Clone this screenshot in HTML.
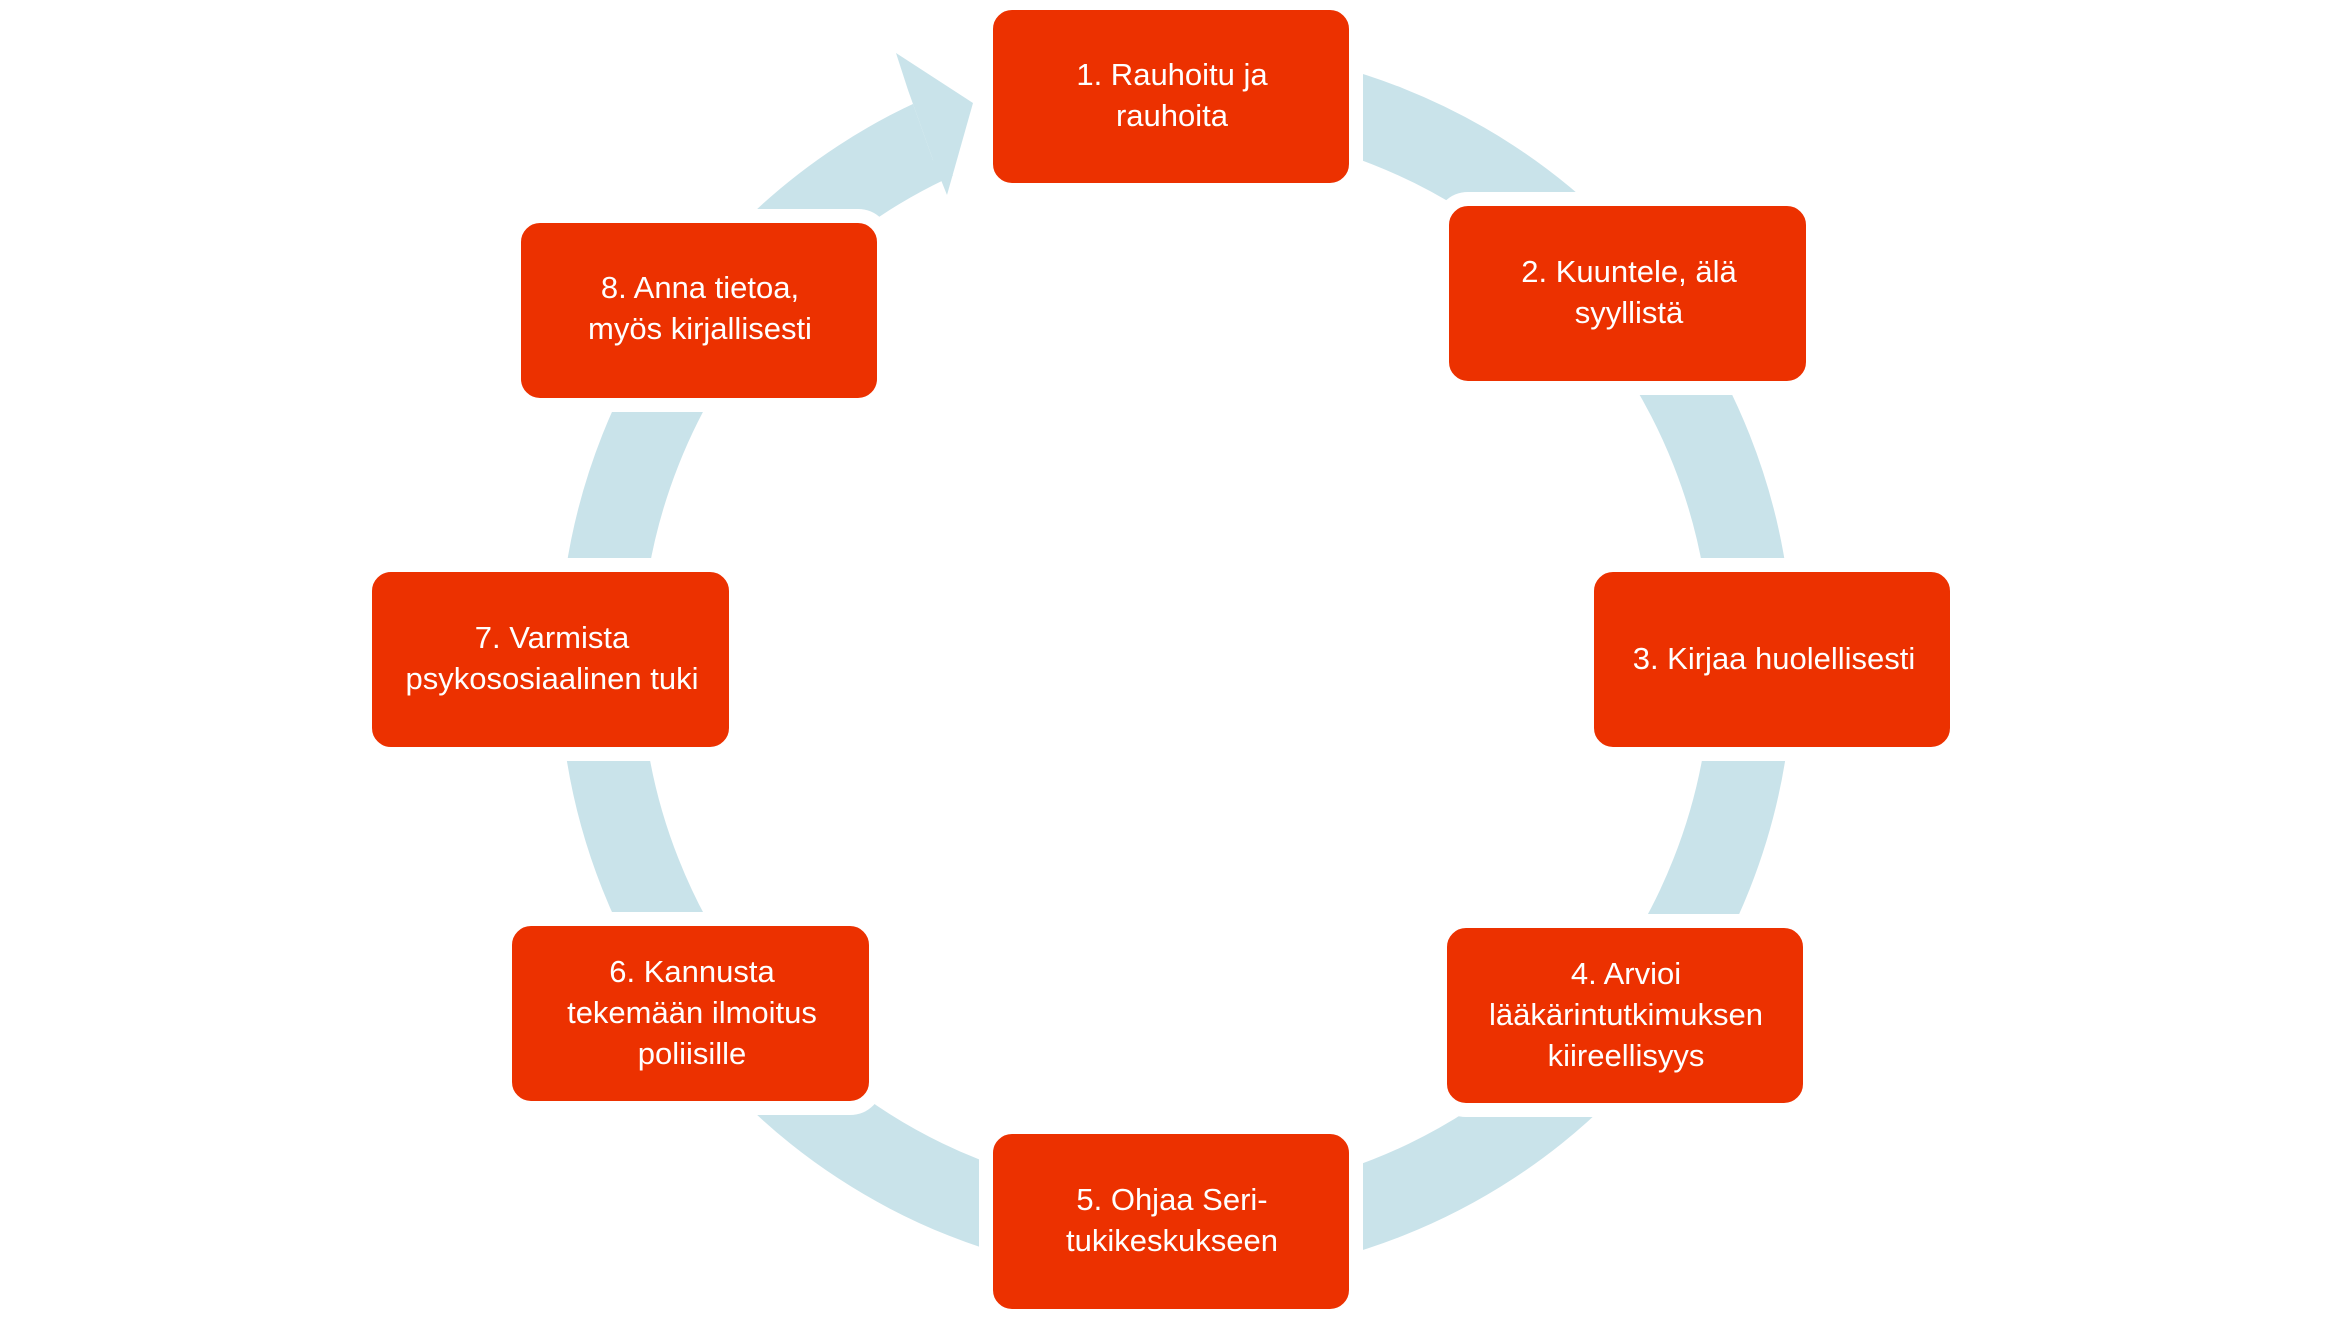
<!DOCTYPE html>
<html><head><meta charset="utf-8"><style>
html,body{margin:0;padding:0;background:#fff;width:2343px;height:1318px;overflow:hidden}
text{font-family:"Liberation Sans",sans-serif;font-size:31px;fill:#fff}
rect{fill:#ec3100;stroke:#fff;stroke-width:14}
</style></head><body>
<svg width="2343" height="1318" viewBox="0 0 2343 1318">
<circle cx="1176" cy="662" r="576" fill="none" stroke="#c9e3ea" stroke-width="82"/>
<polygon points="908,90 933,160 990,205 990,15 890,15" fill="#fff"/>
<polygon points="908,90 896,53 973,103 947,195 933,160" fill="#c9e3ea"/>
<g text-anchor="middle">
<g transform="translate(-5,0)"><rect x="991" y="3" width="370" height="187" rx="26"/>
<text x="1177" y="85">1. Rauhoitu ja</text><text x="1177" y="126">rauhoita</text></g>
<g transform="translate(-7,-1)"><rect x="1449" y="200" width="371" height="189" rx="26"/>
<text x="1636" y="283">2. Kuuntele, älä</text><text x="1636" y="324">syyllistä</text></g>
<g transform="translate(-8,-3)"><rect x="1595" y="568" width="370" height="189" rx="26"/>
<text x="1782" y="672">3. Kirjaa huolellisesti</text></g>
<g transform="translate(-8,-4)"><rect x="1448" y="925" width="370" height="189" rx="26"/>
<text x="1634" y="988">4. Arvioi</text><text x="1634" y="1029">lääkärintutkimuksen</text><text x="1634" y="1070">kiireellisyys</text></g>
<g transform="translate(-5,-5)"><rect x="991" y="1132" width="370" height="189" rx="26"/>
<text x="1177" y="1215">5. Ohjaa Seri-</text><text x="1177" y="1256">tukikeskukseen</text></g>
<g transform="translate(-3,-4)"><rect x="508" y="923" width="371" height="189" rx="26"/>
<text x="695" y="986">6. Kannusta</text><text x="695" y="1027">tekemään ilmoitus</text><text x="695" y="1068">poliisille</text></g>
<g transform="translate(-3,-3)"><rect x="368" y="568" width="371" height="189" rx="26"/>
<text x="555" y="651">7. Varmista</text><text x="555" y="692">psykososiaalinen tuki</text></g>
<g transform="translate(-3,-1)"><rect x="517" y="217" width="370" height="189" rx="26"/>
<text x="703" y="299">8. Anna tietoa,</text><text x="703" y="340">myös kirjallisesti</text></g>
</g>
</svg>
</body></html>
